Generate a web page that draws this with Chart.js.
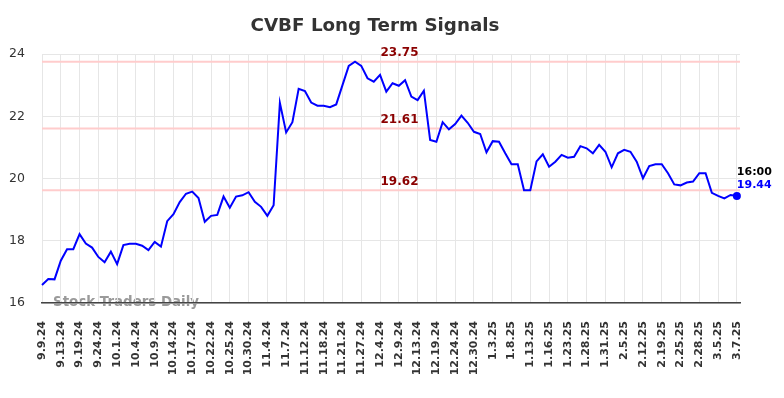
<!DOCTYPE html>
<html><head><meta charset="utf-8">
<script src="https://cdn.jsdelivr.net/npm/chart.js@4/dist/chart.umd.min.js"></script>
<style>html,body{margin:0;padding:0;background:#fff}#wrap{width:784px;height:398px;position:relative}</style>
</head><body><div id="wrap"><canvas id="c" width="784" height="398"></canvas></div>
<script>
const titleText = 'CVBF Long Term Signals';
const watermarkText = 'Stock Traders Daily';
const lastTimeText = '16:00';
const tickLabels = ['9.9.24','9.13.24','9.19.24','9.24.24','10.1.24','10.4.24','10.9.24','10.14.24','10.17.24','10.22.24','10.25.24','10.30.24','11.4.24','11.7.24','11.12.24','11.18.24','11.21.24','11.27.24','12.4.24','12.9.24','12.13.24','12.19.24','12.24.24','12.30.24','1.3.25','1.8.25','1.13.25','1.16.25','1.23.25','1.28.25','1.31.25','2.5.25','2.12.25','2.19.25','2.25.25','2.28.25','3.5.25','3.7.25'];
const prices = [16.58,16.77,16.76,17.36,17.73,17.73,18.21,17.91,17.78,17.48,17.31,17.65,17.25,17.86,17.90,17.90,
17.84,17.70,17.96,17.81,18.63,18.85,19.24,19.51,19.58,19.37,18.61,18.80,18.83,19.42,19.06,19.42,19.46,19.56,19.25,19.09,18.80,19.14,
22.43,21.48,21.81,22.88,22.81,22.44,22.34,22.34,22.29,22.38,23.00,23.62,23.75,23.62,23.22,23.11,23.33,22.79,23.06,22.98,23.16,22.63,22.52,22.82,
21.24,21.18,21.81,21.58,21.75,22.02,21.79,21.50,21.43,20.84,21.20,21.18,20.81,20.46,20.46,19.62,19.62,
20.55,20.78,20.38,20.54,20.76,20.67,20.70,21.04,20.97,20.81,21.08,20.86,20.36,20.81,20.92,20.86,20.54,
20.01,20.40,20.46,20.46,20.17,19.81,19.78,19.87,19.90,20.17,20.17,19.54,19.44,19.36,19.47,19.44];
const levelValues = [23.75, 21.61, 19.62];
const yTickValues = [16, 18, 20, 22, 24];
const pointsPerLabel = 3;

const FONT = "'DejaVu Sans', sans-serif";
const lastIdx = prices.length - 1;

const overlay = {
  id: 'overlay',
  beforeDraw(chart) {
    const c = chart.ctx, a = chart.chartArea;
    c.save();
    c.font = 'bold 13.4px ' + FONT;
    c.fillStyle = '#9a9a9a';
    c.textAlign = 'left'; c.textBaseline = 'middle';
    c.fillText(watermarkText, 53, a.bottom);
    c.restore();
  },
  beforeDatasetsDraw(chart) {
    const c = chart.ctx, a = chart.chartArea, y = chart.scales.y;
    c.save();
    c.strokeStyle = '#ffcccc'; c.lineWidth = 2;
    levelValues.forEach(v => {
      const py = y.getPixelForValue(v);
      c.beginPath(); c.moveTo(a.left, py); c.lineTo(a.right, py); c.stroke();
    });
    c.restore();
  },
  afterDatasetsDraw(chart) {
    const c = chart.ctx, a = chart.chartArea, y = chart.scales.y, x = chart.scales.x;
    c.save();
    c.font = 'bold 12px ' + FONT;
    c.fillStyle = '#8b0000';
    c.textAlign = 'center'; c.textBaseline = 'middle';
    levelValues.forEach(v => {
      c.fillText(v.toFixed(2), 399.5, y.getPixelForValue(v) - 8.5);
    });
    c.font = 'bold 18.3px ' + FONT;
    c.fillStyle = '#333333';
    c.fillText(titleText, 375, 26.5);
    const px = x.getPixelForValue(lastIdx), py = y.getPixelForValue(prices[lastIdx]);
    c.textAlign = 'left';
    c.font = 'bold 11px ' + FONT;
    c.fillStyle = '#000000';
    c.fillText(lastTimeText, px, py - 23.5);
    c.fillStyle = '#0000ff';
    c.fillText(prices[lastIdx].toFixed(2), px, py - 10.5);
    c.restore();
  }
};

new Chart(document.getElementById('c'), {
  type: 'line',
  data: {
    datasets: [{
      data: prices.map((v, i) => ({x: i, y: v})),
      borderColor: '#0000ff',
      backgroundColor: '#0000ff',
      borderWidth: 2,
      tension: 0,
      fill: false,
      clip: false,
      pointRadius: ctx => ctx.dataIndex === lastIdx ? 4 : 0,
      pointBackgroundColor: '#0000ff',
      pointBorderWidth: 0
    }]
  },
  options: {
    responsive: false,
    animation: false,
    devicePixelRatio: 1,
    layout: {padding: {top: 54, right: 44, left: 0, bottom: 0}},
    plugins: {legend: {display: false}, tooltip: {enabled: false}, title: {display: false}},
    scales: {
      x: {
        type: 'linear',
        min: 0,
        max: lastIdx + 0.5,
        afterBuildTicks: s => { s.ticks = tickLabels.map((_, k) => ({value: k * pointsPerLabel})); },
        afterFit: s => { s.height = 95; },
        ticks: {
          autoSkip: false, maxRotation: 90, minRotation: 90, padding: 18,
          font: {family: FONT, size: 11, weight: 'bold'}, color: '#333333',
          callback: v => tickLabels[Math.round(v / pointsPerLabel)]
        },
        grid: {color: '#e6e6e6', lineWidth: 1, drawTicks: false},
        border: {color: '#444444', width: 1.5}
      },
      y: {
        min: 16, max: 24,
        afterBuildTicks: s => { s.ticks = yTickValues.map(v => ({value: v})); },
        afterFit: s => { s.width = 42; },
        ticks: {padding: 17, font: {family: FONT, size: 12.5}, color: '#333333'},
        grid: {color: '#e6e6e6', lineWidth: 1, drawTicks: false},
        border: {display: false}
      }
    }
  },
  plugins: [overlay]
});
</script></body></html>
